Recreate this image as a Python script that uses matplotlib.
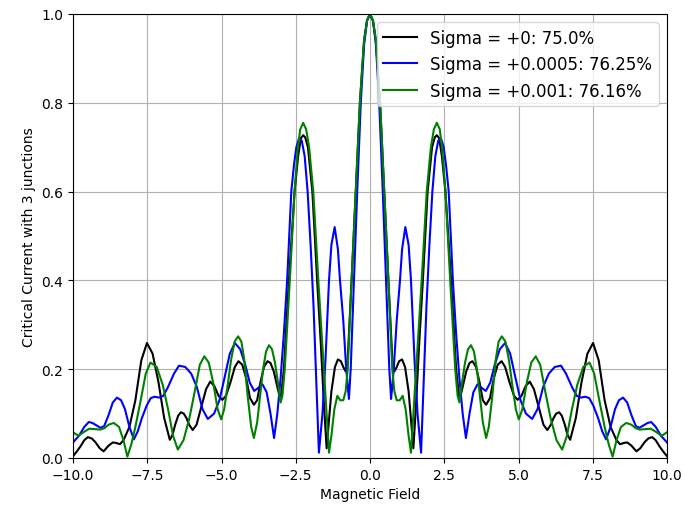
import numpy as np
import matplotlib
matplotlib.use("Agg")
import matplotlib.pyplot as plt

# Curves are symmetric about B = 0, so only the right half (B >= 0) is listed
# and mirrored below.

# sigma = +0  (black)
field_s0 = [0, 0.1, 0.2, 0.34, 0.48, 0.62, 0.76, 0.82, 0.9, 0.98, 1.08, 1.18, 1.3, 1.46,
            1.55, 1.65, 1.78, 1.94, 2.09, 2.18, 2.25, 2.33, 2.42, 2.54, 2.73, 2.9, 3.01,
            3.12, 3.24, 3.35, 3.45, 3.57, 3.69, 3.8, 3.91, 4.04, 4.17, 4.3, 4.43, 4.55,
            4.7, 4.85, 4.97, 5.1, 5.24, 5.38, 5.52, 5.68, 5.84, 5.97, 6.09, 6.18, 6.27,
            6.37, 6.46, 6.56, 6.65, 6.74, 6.93, 7.12, 7.32, 7.51, 7.7, 7.9, 8.1, 8.3,
            8.42, 8.55, 8.66, 8.8, 8.97, 9.1, 9.25, 9.37, 9.5, 9.62, 9.75, 9.88, 10.0]
current_s0 = [1.0, 0.985, 0.94, 0.80, 0.60, 0.40, 0.21, 0.195, 0.205, 0.218, 0.222, 0.205,
              0.15, 0.022, 0.12, 0.25, 0.40, 0.60, 0.70, 0.722, 0.727, 0.72, 0.68, 0.60,
              0.40, 0.20, 0.13, 0.16, 0.195, 0.214, 0.218, 0.205, 0.17, 0.13, 0.12,
              0.135, 0.18, 0.21, 0.218, 0.205, 0.17, 0.14, 0.131, 0.14, 0.162, 0.172,
              0.155, 0.115, 0.075, 0.063, 0.075, 0.09, 0.10, 0.103, 0.095, 0.075, 0.052,
              0.041, 0.09, 0.17, 0.235, 0.259, 0.22, 0.13, 0.07, 0.04, 0.031, 0.034,
              0.035, 0.028, 0.015, 0.022, 0.036, 0.044, 0.047, 0.04, 0.026, 0.014, 0.004]

# sigma = +0.0005  (blue)
field_s1 = [0, 0.1, 0.2, 0.31, 0.43, 0.54, 0.65, 0.71, 0.8, 0.9, 1.01, 1.08, 1.19, 1.3,
            1.38, 1.5, 1.6, 1.72, 1.8, 1.9, 2.0, 2.1, 2.2, 2.3, 2.39, 2.48, 2.56, 2.65,
            2.79, 2.9, 3.01, 3.12, 3.23, 3.35, 3.48, 3.62, 3.76, 3.9, 4.05, 4.2, 4.37,
            4.55, 4.72, 4.9, 5.07, 5.25, 5.46, 5.64, 5.83, 6.02, 6.22, 6.43, 6.6, 6.8,
            6.96, 7.1, 7.25, 7.38, 7.52, 7.68, 7.82, 7.95, 8.1, 8.25, 8.38, 8.52, 8.66,
            8.8, 8.95, 9.07, 9.22, 9.35, 9.47, 9.62, 9.8, 10.0]
current_s1 = [1.0, 0.985, 0.93, 0.80, 0.60, 0.40, 0.20, 0.133, 0.20, 0.31, 0.40, 0.47,
              0.52, 0.48, 0.40, 0.22, 0.10, 0.012, 0.16, 0.34, 0.48, 0.60, 0.68, 0.715,
              0.72, 0.70, 0.66, 0.60, 0.40, 0.28, 0.18, 0.10, 0.045, 0.10, 0.148, 0.166,
              0.158, 0.151, 0.17, 0.21, 0.245, 0.259, 0.235, 0.18, 0.13, 0.10, 0.088,
              0.11, 0.16, 0.19, 0.205, 0.208, 0.19, 0.16, 0.140, 0.136, 0.138, 0.135,
              0.118, 0.09, 0.06, 0.042, 0.07, 0.11, 0.13, 0.136, 0.125, 0.097, 0.072,
              0.068, 0.074, 0.079, 0.081, 0.07, 0.05, 0.035]

# sigma = +0.001  (green)
field_s2 = [0, 0.1, 0.2, 0.34, 0.48, 0.62, 0.75, 0.82, 0.9, 1.0, 1.1, 1.2, 1.3, 1.38,
            1.5, 1.62, 1.74, 1.91, 2.05, 2.15, 2.25, 2.35, 2.44, 2.54, 2.70, 2.87, 2.95,
            3.01, 3.1, 3.2, 3.3, 3.40, 3.5, 3.6, 3.7, 3.8, 3.91, 4.0, 4.12, 4.23, 4.33,
            4.44, 4.56, 4.68, 4.8, 4.91, 5.01, 5.13, 5.28, 5.43, 5.58, 5.73, 5.9, 6.08,
            6.28, 6.47, 6.63, 6.8, 6.98, 7.18, 7.39, 7.55, 7.72, 7.9, 8.04, 8.17, 8.3,
            8.45, 8.63, 8.8, 8.95, 9.08, 9.25, 9.45, 9.65, 9.82, 10.0]
current_s2 = [1.0, 0.985, 0.94, 0.80, 0.60, 0.40, 0.20, 0.15, 0.13, 0.13, 0.14, 0.11,
              0.05, 0.012, 0.14, 0.27, 0.40, 0.60, 0.70, 0.74, 0.755, 0.74, 0.69, 0.60,
              0.40, 0.20, 0.14, 0.125, 0.17, 0.215, 0.245, 0.254, 0.24, 0.20, 0.14, 0.08,
              0.045, 0.07, 0.14, 0.22, 0.262, 0.274, 0.262, 0.22, 0.16, 0.11, 0.087,
              0.11, 0.17, 0.215, 0.229, 0.21, 0.15, 0.09, 0.04, 0.019, 0.05, 0.11, 0.165,
              0.205, 0.215, 0.19, 0.13, 0.07, 0.03, 0.003, 0.04, 0.07, 0.079, 0.075,
              0.067, 0.064, 0.065, 0.066, 0.058, 0.05, 0.058]

labels = ["Sigma = +0: 75.0%", "Sigma = +0.0005: 76.25%", "Sigma = +0.001: 76.16%"]
colors = ["black", "blue", "green"]


def mirror(x, y):
    x = np.asarray(x, dtype=float)
    y = np.asarray(y, dtype=float)
    return np.concatenate([-x[::-1], x[1:]]), np.concatenate([y[::-1], y[1:]])


fig, ax = plt.subplots(figsize=(6.85, 5.1), dpi=100)
fig.subplots_adjust(left=73 / 685, right=667 / 685, top=1 - 15 / 510, bottom=1 - 459 / 510)

series = [(field_s0, current_s0), (field_s1, current_s1), (field_s2, current_s2)]
for (fx, cy), lab, col in zip(series, labels, colors):
    xx, yy = mirror(fx, cy)
    ax.plot(xx, yy, color=col, label=lab)

ax.set_xlim(-10, 10)
ax.set_ylim(0, 1)
ax.set_xlabel("Magnetic Field")
ax.set_ylabel("Critical Current with 3 junctions")
ax.grid(True)
ax.legend(loc="upper right", fontsize=12)

fig.savefig("out.png", dpi=100)
